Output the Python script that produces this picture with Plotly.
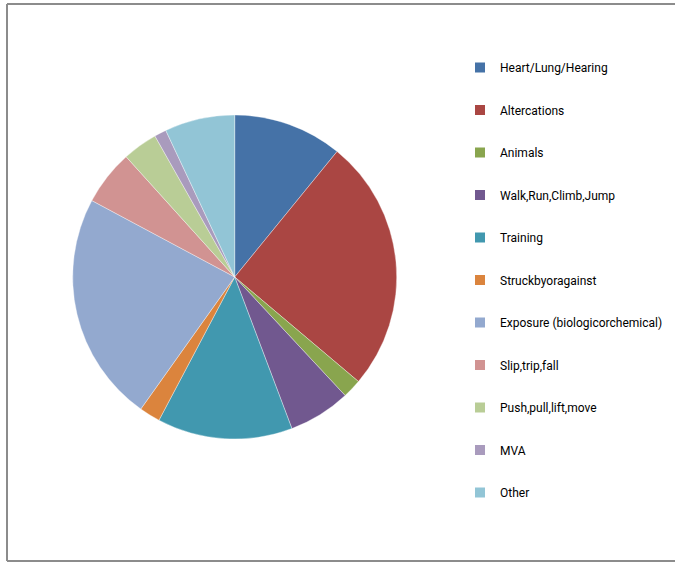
import plotly.graph_objects as go

categories = ["Heart/Lung/Hearing", "Altercations", "Animals", "Walk,Run,Climb,Jump",
              "Training", "Struck by or against", "Exposure (biologic or chemical)",
              "Slip, trip, fall", "Push, pull, lift, move", "MVA", "Other"]
legend_labels = ["Heart/Lung/Hearing", "Altercations", "Animals", "Walk,Run,Climb,Jump",
                 "Training", "Struckbyoragainst", "Exposure (biologicorchemical)",
                 "Slip,trip,fall", "Push,pull,lift,move", "MVA", "Other"]
values = [10.9, 25.3, 1.9, 6.2, 13.5, 2.1, 23.0, 5.5, 3.5, 1.2, 7.0]
colors = ["#4572A7", "#AA4643", "#89A54E", "#71588F", "#4198AF", "#DB843D",
          "#93A9CF", "#D19392", "#B9CD96", "#A99BBD", "#92C5D6"]

W, H = 675, 563
cx, cy, r = 234.7, 277.0, 162.0

fig = go.Figure()
fig.add_trace(go.Pie(
    labels=categories, values=values, sort=False, direction="clockwise", rotation=0,
    marker=dict(colors=colors, line=dict(color="rgba(255,255,255,0.6)", width=0.6)),
    textinfo="none", showlegend=False,
    domain=dict(x=[(cx - r) / W, (cx + r) / W], y=[1 - (cy + r) / H, 1 - (cy - r) / H]),
))
for i, (lab, col) in enumerate(zip(legend_labels, colors)):
    fig.add_trace(go.Scatter(
        x=[None], y=[None], mode="markers", name=lab,
        marker=dict(symbol="square", size=10, color=col),
        legendgroup=f"g{i}", showlegend=True,
    ))

frame = dict(color="#8c8c8c", width=2)
fig.update_layout(
    width=W, height=H, autosize=False,
    margin=dict(l=0, r=0, t=0, b=0),
    paper_bgcolor="white", plot_bgcolor="white",
    xaxis=dict(visible=False), yaxis=dict(visible=False),
    legend=dict(
        x=460 / W, xanchor="left", y=1 - 53 / H, yanchor="top",
        font=dict(family="Roboto, Liberation Sans, sans-serif", size=12, color="#000"),
        tracegroupgap=23.5, itemwidth=30, bgcolor="rgba(0,0,0,0)",
    ),
    shapes=[
        dict(type="line", xref="paper", yref="paper", x0=7 / W, x1=7 / W,
             y0=1 - 561 / H, y1=1 - 4 / H, line=frame),
        dict(type="line", xref="paper", yref="paper", x0=7 / W, x1=1,
             y0=1 - 4 / H, y1=1 - 4 / H, line=frame),
        dict(type="line", xref="paper", yref="paper", x0=7 / W, x1=1,
             y0=1 - 561 / H, y1=1 - 561 / H, line=frame),
    ],
)
fig.write_html(
    "out.html",
    config={"responsive": False, "displayModeBar": False},
    post_script="document.body.style.margin='0';document.body.style.overflow='hidden';"
                "Plotly.relayout('{plot_id}', {width: 675, height: 563});",
)
